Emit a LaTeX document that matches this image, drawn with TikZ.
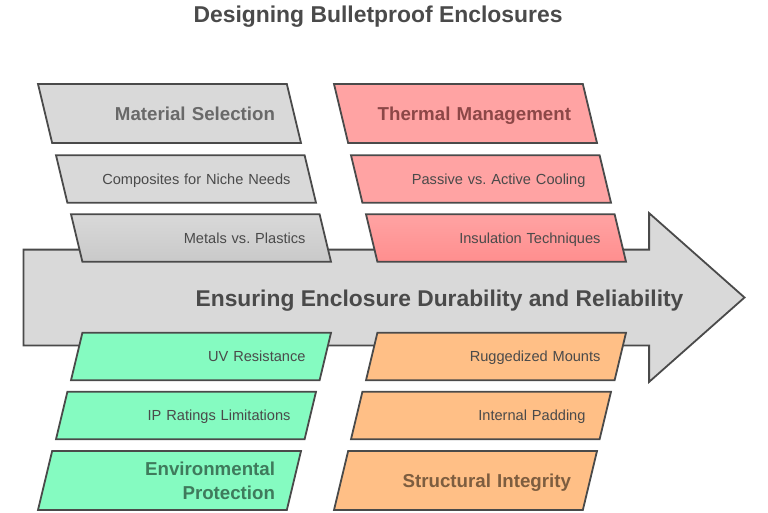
\documentclass[tikz,border=0pt]{standalone}
\usepackage{fontspec}
\setmainfont{Liberation Sans}
\usetikzlibrary{shapes,arrows}
\frenchspacing
\definecolor{graybox}{HTML}{D9D9D9}
\definecolor{graylow}{HTML}{C9C9C9}
\definecolor{redbox}{HTML}{FFA3A3}
\definecolor{redlow}{HTML}{FF8E8E}
\definecolor{greenbox}{HTML}{85FBC1}
\definecolor{orangebox}{HTML}{FFBF86}
\definecolor{edgecol}{HTML}{4A4A4A}
\definecolor{graytext}{HTML}{696969}
\definecolor{redtext}{HTML}{8C4747}
\definecolor{greentext}{HTML}{3F7A5C}
\definecolor{orangetext}{HTML}{7D5D3F}
\newcommand{\smallfont}{\fontsize{14.6}{17}\selectfont}
\newcommand{\headfont}{\fontsize{18.7}{24}\selectfont\bfseries}
\tikzstyle{slanted} = [trapezium, trapezium stretches body=true, draw=edgecol, line width=1.8pt,
    inner sep=0pt, outer sep=0pt, align=right]
\tikzstyle{leanup} = [slanted, trapezium left angle=103.5, trapezium right angle=76.5]
\tikzstyle{leandown} = [slanted, trapezium left angle=76.5, trapezium right angle=103.5]
\tikzstyle{item} = [text width=209pt, minimum width=260pt, text height=29pt, text depth=18.5pt,
    text=edgecol, font=\smallfont]
\tikzstyle{head} = [text width=211pt, minimum width=263pt, text height=36.5pt, text depth=22.5pt,
    font=\headfont]
\tikzstyle{bigarrow} = [single arrow, draw=edgecol, fill=graybox, line width=1.8pt, inner sep=0pt,
    outer sep=0pt, text height=47pt, text depth=47pt, minimum height=721pt,
    single arrow head extend=36.5pt, single arrow tip angle=83]

\begin{document}
\begin{tikzpicture}[x=1pt, y=-1pt]
	\useasboundingbox (0,0) rectangle (768,512);
	\node [bigarrow, anchor=tail] (shaft) at (23.5,297.5) {};
	\node [text height=17pt, text depth=0pt, text=edgecol, font=\fontsize{22.8}{28}\selectfont\bfseries] (goal) at (439.5,297.5) {Ensuring Enclosure Durability and Reliability};
	\node [text height=17pt, text depth=0pt, text=edgecol, font=\fontsize{22.9}{28}\selectfont\bfseries] (title) at (378,14) {Designing Bulletproof Enclosures};

	% top rows
	\node [leanup, head, fill=graybox, text=graytext] (material) at (169.5,113.5) {Material Selection};
	\node [leanup, item, fill=graybox] (composites) at (186,179) {Composites for Niche Needs};
	\node [leanup, item, top color=graybox, bottom color=graylow] (metals) at (201,238) {Metals vs. Plastics};
	\node [leanup, head, fill=redbox, text=redtext] (thermal) at (465.5,113.5) {Thermal Management};
	\node [leanup, item, fill=redbox] (passive) at (481,179) {Passive vs. Active Cooling};
	\node [leanup, item, top color=redbox, bottom color=redlow] (insulation) at (496,238) {Insulation Techniques};

	% bottom rows
	\node [leandown, item, fill=greenbox] (uv) at (201,356.5) {UV Resistance};
	\node [leandown, item, fill=greenbox] (ip) at (186,415.5) {IP Ratings Limitations};
	\node [leandown, head, text height=24pt, text depth=35pt, fill=greenbox, text=greentext] (environment) at (169.5,480.5) {Environmental\\Protection};
	\node [leandown, item, fill=orangebox] (mounts) at (496,356.5) {Ruggedized Mounts};
	\node [leandown, item, fill=orangebox] (padding) at (481,415.5) {Internal Padding};
	\node [leandown, head, fill=orangebox, text=orangetext] (structure) at (465.5,480.5) {Structural Integrity};
\end{tikzpicture}
\end{document}
